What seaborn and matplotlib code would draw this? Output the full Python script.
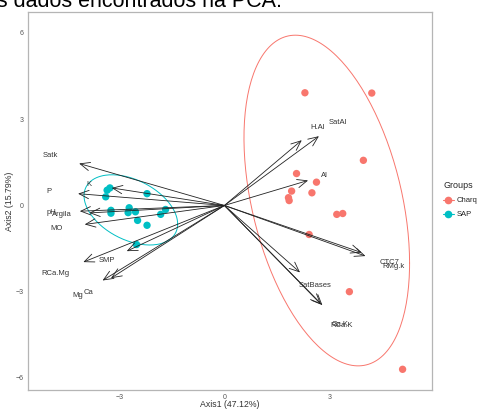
import numpy as np
import pandas as pd
import seaborn as sns
import matplotlib
matplotlib.use("Agg")
from matplotlib import pyplot as plt
from matplotlib.lines import Line2D

# scores (Axis1, Axis2) per sample
charq_x = [2.30, 4.21, 3.97, 2.06, 2.63, 1.92, 2.50, 1.83, 1.85, 3.38, 3.21, 2.42, 3.57, 5.09]
charq_y = [3.92, 3.91, 1.57, 1.11, 0.81, 0.50, 0.44, 0.27, 0.17, -0.28, -0.31, -1.01, -3.00, -5.70]
sap_x = [-3.27, -3.35, -3.39, -2.21, -3.24, -3.24, -2.72, -2.75, -2.54, -1.68, -1.82, -2.48, -2.21, -2.51]
sap_y = [0.61, 0.53, 0.30, 0.41, -0.17, -0.27, -0.08, -0.25, -0.22, -0.14, -0.31, -0.52, -0.69, -1.36]

# variable loadings (arrow tips)
var_names = ["Satk", "K", "P", "pH", "Argila", "MO", "SMP", "RCa.Mg", "Mg", "Ca",
             "H.Al", "SatAl", "Al", "CTC7", "RMg.k", "SatBases", "RCa.K", "Ca.K"]
var_x = [-4.15, -3.22, -4.18, -4.13, -3.86, -3.99, -2.79, -4.03, -3.48, -3.24,
         2.21, 2.70, 2.39, 3.92, 4.03, 2.16, 2.80, 2.76]
var_y = [1.46, 0.61, 0.41, -0.20, -0.26, -0.66, -1.59, -1.97, -2.61, -2.53,
         2.27, 2.41, 0.87, -1.64, -1.76, -2.33, -3.47, -3.44]

groups = ["Charq", "SAP"]
colors = {"Charq": "#F8766D", "SAP": "#00BFC4"}

df = pd.DataFrame({
    "Axis1": charq_x + sap_x,
    "Axis2": charq_y + sap_y,
    "Groups": ["Charq"] * len(charq_x) + ["SAP"] * len(sap_x),
})


def stat_ellipse(xs, ys, level=0.90):
    # like ggplot2 stat_ellipse(type = "norm")
    pts = np.column_stack([xs, ys])
    n = len(pts)
    loc = pts.mean(axis=0)
    cov = np.cov(pts.T)
    dfd = n - 1
    fq = (dfd / 2) * ((1 - level) ** (-2 / dfd) - 1)
    radius = np.sqrt(2 * fq)
    t = np.linspace(0, 2 * np.pi, 200)
    circle = np.column_stack([np.cos(t), np.sin(t)])
    chol = np.linalg.cholesky(cov).T
    ell = loc + radius * circle @ chol
    return ell[:, 0], ell[:, 1]


sns.set_style("white")
plt.rcParams["font.family"] = ["Liberation Sans", "DejaVu Sans"]

fig = plt.figure(figsize=(4.79, 4.09), dpi=100)
ax = fig.add_axes([28 / 479, 19 / 409, 404 / 479, 378 / 409])

sns.scatterplot(data=df, x="Axis1", y="Axis2", hue="Groups", palette=colors,
                s=28, edgecolor="none", legend=False, ax=ax, zorder=3)

for g, xs, ys in [("Charq", charq_x, charq_y), ("SAP", sap_x, sap_y)]:
    ex, ey = stat_ellipse(xs, ys)
    ax.plot(ex, ey, color=colors[g], lw=0.7, zorder=2)

for name, vx, vy in zip(var_names, var_x, var_y):
    ax.annotate("", xy=(vx, vy), xytext=(0, 0),
                arrowprops=dict(arrowstyle="->,head_length=0.7,head_width=0.3",
                                color="#222222", lw=0.6, shrinkA=0, shrinkB=0),
                zorder=4)
    ax.text(vx * 1.2, vy * 1.2, name, fontsize=5.5, color="#333333",
            ha="center", va="center", zorder=5)

ax.set_xlim(-5.61, 5.93)
ax.set_ylim(-6.42, 6.73)
ax.set_xticks([-3, 0, 3])
ax.set_yticks([-6, -3, 0, 3, 6])
ax.tick_params(labelsize=5, colors="#555555", length=2, width=0.5, pad=1)
for s in ax.spines.values():
    s.set_color("#b5b5b5")
    s.set_linewidth(0.9)
ax.set_xlabel("Axis1 (47.12%)", fontsize=6.3, color="#333333", labelpad=-1)
ax.set_ylabel("Axis2 (15.79%)", fontsize=6.3, color="#333333", labelpad=1)

handles = [Line2D([0], [0], color=colors[g], marker="o", markersize=4.5, lw=0.8) for g in groups]
leg = fig.legend(handles, groups, title="Groups", loc="upper left",
                 bbox_to_anchor=(440 / 479, 1 - 178 / 409), frameon=False,
                 fontsize=5.5, title_fontsize=6.5, handlelength=1.4,
                 handletextpad=0.4, labelspacing=0.9, borderaxespad=0)
leg._legend_box.align = "left"

fig.text(-14.7 / 479, 1 - 7 / 409, "os dados encontrados na PCA.", fontsize=15.5,
         color="black", ha="left", va="baseline")

fig.savefig("out.png", dpi=100)
